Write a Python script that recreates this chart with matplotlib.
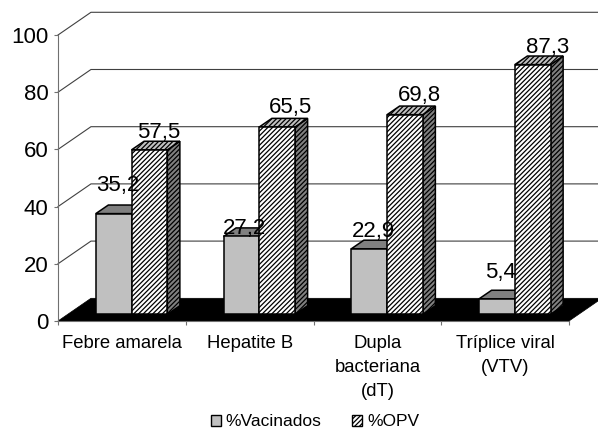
import matplotlib
matplotlib.use('Agg')
import matplotlib.pyplot as plt
from matplotlib.patches import Polygon, Patch

plt.rcParams['font.family'] = ['Liberation Sans', 'DejaVu Sans']
plt.rcParams['hatch.linewidth'] = 0.9

# data
categories = ['Febre amarela', 'Hepatite B', 'Dupla\nbacteriana\n(dT)', 'Tríplice viral\n(VTV)']
vacinados = [35.2, 27.2, 22.9, 5.4]
opv = [57.5, 65.5, 69.8, 87.3]
y_ticks = [0, 20, 40, 60, 80, 100]

# fake 3d geometry, in axis units
wall_dx = 0.258
wall_dy = 7.94
bar_w = 0.28
bar_dx = 0.098
bar_dy = 3.0
front_dx = 0.076
front_dy = 2.35

# label nudges from the top centre of each bar (x units, y units)
vac_nudge = [(0.03, 8.0), (0.025, 0.8), (0.03, 4.0), (0.03, 7.2)]
opv_nudge = [(0.074, 4.2), (0.107, 4.9), (0.11, 4.8), (0.117, 3.9)]


def fmt(v):
    return str(v).replace('.', ',')


def bar3d(ax, x, h, face, top, side, hatch=None, z=3):
    y0 = front_dy
    y1 = front_dy + h
    x1 = x + bar_w
    ax.add_patch(Polygon([(x1, y0), (x1 + bar_dx, y0 + bar_dy), (x1 + bar_dx, y1 + bar_dy), (x1, y1)],
                         facecolor=side, edgecolor='black', lw=1.1, hatch=hatch, clip_on=False, zorder=z))
    ax.add_patch(Polygon([(x, y1), (x + bar_dx, y1 + bar_dy), (x1 + bar_dx, y1 + bar_dy), (x1, y1)],
                         facecolor=top, edgecolor='black', lw=1.1, hatch=hatch, clip_on=False, zorder=z))
    ax.add_patch(Polygon([(x, y0), (x1, y0), (x1, y1), (x, y1)],
                         facecolor=face, edgecolor='black', lw=1.1, hatch=hatch, clip_on=False, zorder=z))


fig = plt.figure(figsize=(5.98, 4.29), dpi=100)
ax = fig.add_axes([58 / 598, (429 - 321) / 429, (569 - 58) / 598, (321 - 35) / 429])
ax.set_xlim(0, 4)
ax.set_ylim(0, 100)
ax.patch.set_visible(False)

# walls
for t in y_ticks[1:]:
    ax.plot([0, wall_dx, 4 + wall_dx], [t, t + wall_dy, t + wall_dy], color='#404040', lw=0.8,
            clip_on=False, zorder=1)

# floor
ax.add_patch(Polygon([(0, 0), (4, 0), (4 + wall_dx, wall_dy), (wall_dx, wall_dy)],
                     facecolor='black', edgecolor='black', lw=0.5, clip_on=False, zorder=2))

# bars
for i in range(len(categories)):
    x_left = i + 0.5 + front_dx - bar_w
    bar3d(ax, x_left, vacinados[i], '#C0C0C0', '#808080', '#808080')
    bar3d(ax, x_left + bar_w, opv[i], 'white', '#C0C0C0', '#808080', hatch='///////')

    nx, ny = vac_nudge[i]
    ax.text(x_left + bar_w / 2 + nx, front_dy + vacinados[i] + ny, fmt(vacinados[i]), ha='center', va='baseline',
            fontsize=16, zorder=5)
    nx, ny = opv_nudge[i]
    ax.text(x_left + bar_w * 1.5 + nx, front_dy + opv[i] + ny, fmt(opv[i]), ha='center', va='baseline',
            fontsize=16, zorder=5)

# axes
for s in ['top', 'right']:
    ax.spines[s].set_visible(False)
for s in ['left', 'bottom']:
    ax.spines[s].set_color('#707070')
    ax.spines[s].set_zorder(4)
ax.set_yticks(y_ticks)
ax.tick_params(axis='y', labelsize=16, length=3, color='#707070', pad=4)
ax.set_xticks(range(5))
ax.set_xticklabels([])
ax.set_xticks([i + 0.5 for i in range(4)], minor=True)
ax.set_xticklabels(categories, minor=True, fontsize=13.3, linespacing=1.55)
ax.tick_params(axis='x', which='major', length=3, color='#707070')
ax.tick_params(axis='x', which='minor', length=0, pad=10)

handles = [Patch(facecolor='#C0C0C0', edgecolor='black', label='%Vacinados'),
           Patch(facecolor='white', edgecolor='black', hatch='///////', label='%OPV')]
fig.legend(handles=handles, loc='center', bbox_to_anchor=(315 / 598, 1 - 422 / 429), ncol=2, frameon=False,
           fontsize=12.5, handlelength=0.58, handleheight=0.58, handletextpad=0.3, columnspacing=1.75)

fig.savefig('out.png', dpi=100)
